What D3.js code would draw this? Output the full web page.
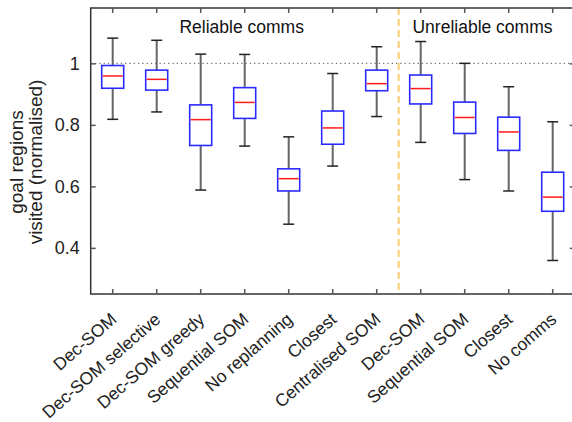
<!DOCTYPE html>
<html>
<head>
<meta charset="utf-8">
<script src="https://cdn.jsdelivr.net/npm/d3@7"></script>
<style>
  html, body { margin: 0; padding: 0; background: #fff; }
  svg { display: block; font-family: "Liberation Sans", Arial, Helvetica, sans-serif; }
</style>
</head>
<body>
<svg id="chart" width="572" height="422"></svg>
<script>
// ---- data ----
const categories = ["Dec-SOM", "Dec-SOM selective", "Dec-SOM greedy", "Sequential SOM", "No replanning",
                    "Closest", "Centralised SOM", "Dec-SOM", "Sequential SOM", "Closest", "No comms"];
const whiskerHigh = [1.082, 1.075, 1.030, 1.029, 0.761, 0.967, 1.054, 1.071, 1.000, 0.924, 0.810];
const q3Values    = [0.993, 0.978, 0.865, 0.921, 0.657, 0.845, 0.978, 0.962, 0.874, 0.825, 0.646];
const medians     = [0.959, 0.948, 0.817, 0.873, 0.625, 0.790, 0.934, 0.918, 0.824, 0.777, 0.565];
const q1Values    = [0.919, 0.913, 0.733, 0.821, 0.585, 0.737, 0.911, 0.868, 0.772, 0.717, 0.519];
const whiskerLow  = [0.818, 0.842, 0.588, 0.731, 0.477, 0.666, 0.827, 0.743, 0.622, 0.585, 0.359];
const yTicks = [0.4, 0.6, 0.8, 1];
const groupLabels = ["Reliable comms", "Unreliable comms"];
const referenceValue = 1;
const splitIndex = 7; // first index of the unreliable group

(function () {
// ---- layout ----
const svg = d3.select("#chart");
const pL = 90.7, pR = 574.7, pT = 8, pB = 294;
const idx = d3.range(categories.length);
const x = d3.scaleBand().domain(idx).range([pL, pR]).padding(0);
const y = d3.scaleLinear().domain([0.25, 1.18]).range([pB, pT]);
const boxW = x.bandwidth() * 0.5;
const capW = boxW * 0.5;
const cx = i => x(i) + x.bandwidth() / 2;

// reference dotted line
svg.append("line")
  .attr("x1", pL).attr("x2", pR)
  .attr("y1", y(referenceValue)).attr("y2", y(referenceValue))
  .attr("stroke", "#777").attr("stroke-width", 1.3)
  .attr("stroke-dasharray", "1.3,3");

// split dashed line
const splitX = x(splitIndex);
svg.append("line")
  .attr("x1", splitX).attr("x2", splitX)
  .attr("y1", pT).attr("y2", pB)
  .attr("stroke", "#f7c45a").attr("stroke-opacity", 0.85).attr("stroke-width", 2)
  .attr("stroke-dasharray", "7,4");

// boxes
const g = svg.append("g").selectAll("g").data(idx).join("g");
g.append("line")
  .attr("x1", cx).attr("x2", cx)
  .attr("y1", i => y(whiskerHigh[i])).attr("y2", i => y(q3Values[i]))
  .attr("stroke", "#666").attr("stroke-width", 2);
g.append("line")
  .attr("x1", cx).attr("x2", cx)
  .attr("y1", i => y(q1Values[i])).attr("y2", i => y(whiskerLow[i]))
  .attr("stroke", "#666").attr("stroke-width", 2);
g.append("line")
  .attr("x1", i => cx(i) - capW / 2).attr("x2", i => cx(i) + capW / 2)
  .attr("y1", i => y(whiskerHigh[i])).attr("y2", i => y(whiskerHigh[i]))
  .attr("stroke", "#222").attr("stroke-width", 1.5);
g.append("line")
  .attr("x1", i => cx(i) - capW / 2).attr("x2", i => cx(i) + capW / 2)
  .attr("y1", i => y(whiskerLow[i])).attr("y2", i => y(whiskerLow[i]))
  .attr("stroke", "#222").attr("stroke-width", 1.5);
g.append("rect")
  .attr("x", i => cx(i) - boxW / 2).attr("width", boxW)
  .attr("y", i => y(q3Values[i])).attr("height", i => y(q1Values[i]) - y(q3Values[i]))
  .attr("fill", "#fff").attr("stroke", "#2a2aff").attr("stroke-width", 1.6);
g.append("line")
  .attr("x1", i => cx(i) - boxW / 2 + 1).attr("x2", i => cx(i) + boxW / 2 - 1)
  .attr("y1", i => y(medians[i])).attr("y2", i => y(medians[i]))
  .attr("stroke", "#ff1a1a").attr("stroke-width", 1.5);

// frame
svg.append("rect")
  .attr("x", pL).attr("y", pT).attr("width", pR - pL).attr("height", pB - pT)
  .attr("fill", "none").attr("stroke", "#333").attr("stroke-width", 1.5);

// ticks
const tickLen = 5;
const tickColor = "#555";
const axB = svg.append("g").attr("transform", `translate(0,${pB})`)
  .call(d3.axisBottom(x).tickSizeInner(-tickLen).tickSizeOuter(0).tickFormat(""));
const axT = svg.append("g").attr("transform", `translate(0,${pT})`)
  .call(d3.axisTop(x).tickSizeInner(-tickLen).tickSizeOuter(0).tickFormat(""));
const axL = svg.append("g").attr("transform", `translate(${pL},0)`)
  .call(d3.axisLeft(y).tickValues(yTicks).tickSizeInner(-tickLen).tickSizeOuter(0)
        .tickFormat(d3.format("~g")));
const axR = svg.append("g").attr("transform", `translate(${pR},0)`)
  .call(d3.axisRight(y).tickValues(yTicks).tickSizeInner(-tickLen).tickSizeOuter(0).tickFormat(""));
[axB, axT, axL, axR].forEach(a => {
  a.select(".domain").remove();
  a.selectAll(".tick line").attr("stroke", tickColor).attr("stroke-width", 1.5);
});
axL.selectAll(".tick text")
  .attr("x", -11)
  .attr("font-size", 18).attr("fill", "#222")
  .style("font-family", "'Liberation Sans', Arial, sans-serif");

// x labels rotated
svg.append("g").selectAll("text").data(idx).join("text")
  .attr("transform", i => `translate(${cx(i) + 5},${pB + 27}) rotate(-41)`)
  .attr("text-anchor", "end")
  .attr("font-size", 17.5).attr("fill", "#222")
  .text(i => categories[i]);

// y axis title
const yt = svg.append("text")
  .attr("transform", `translate(23,162) rotate(-90)`)
  .attr("text-anchor", "middle").attr("font-size", 19).attr("fill", "#222");
yt.append("tspan").attr("x", 0).attr("y", 0).text("goal regions");
yt.append("tspan").attr("x", 0).attr("y", 19).text("visited (normalised)");

// group annotations
svg.append("text").attr("x", (pL + splitX) / 2 - 3).attr("y", 33)
  .attr("text-anchor", "middle").attr("font-size", 17.5).attr("fill", "#111")
  .text(groupLabels[0]);
svg.append("text").attr("x", 482.5).attr("y", 33)
  .attr("text-anchor", "middle").attr("font-size", 17.5).attr("fill", "#111")
  .text(groupLabels[1]);
})();
</script>
</body>
</html>
